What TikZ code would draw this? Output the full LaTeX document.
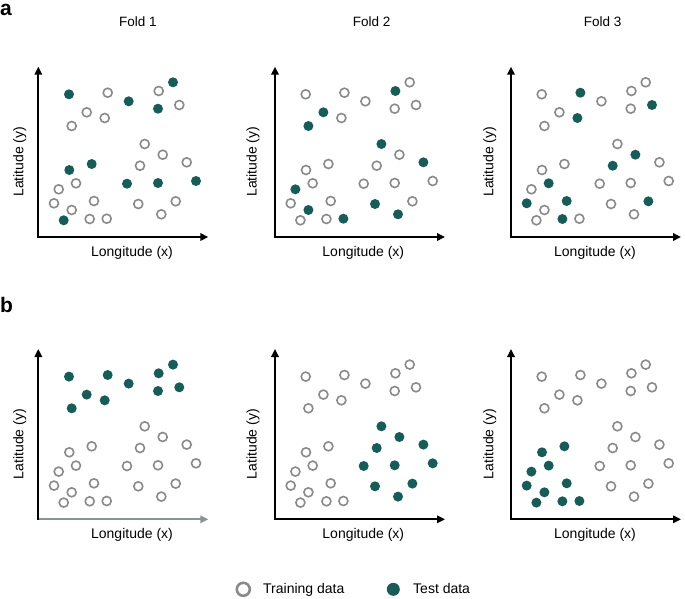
\documentclass[tikz,border=0pt]{standalone}
\usepackage{fontspec}
\setmainfont{Liberation Sans}
\usetikzlibrary{arrows.meta}
\definecolor{cvteal}{RGB}{22,92,88}
\definecolor{ringgray}{RGB}{138,138,138}
\definecolor{axgray}{RGB}{135,148,148}
\tikzset{
  % a coordinate axis
  ax/.style   = {line width=1.8pt, line cap=rect,
                 -{Triangle[length=8pt,width=7.5pt]}},
  % a training point (open ring)
  trn/.style  = {circle, draw=ringgray, line width=1.6pt,
                 minimum size=9pt, inner sep=0pt},
  % a test point (filled dot)
  tst/.style  = {circle, fill=cvteal, minimum size=10pt, inner sep=0pt},
  % axis and legend text
  lbl/.style  = {font=\fontsize{14}{16}\selectfont, inner sep=0pt},
  % the panel letters
  tag/.style  = {font=\bfseries\fontsize{21}{23}\selectfont,
                 inner sep=0pt, anchor=base west},
}
% the 30 sample locations, same in every panel
\newcommand{\ptlist}{1/69/94.3, 2/107.7/92.7, 3/128.7/101.3, 4/158.7/91,
  5/173/82.3, 6/158/108.7, 7/179.3/105, 8/86.7/112.3, 9/104.7/118,
  10/71.7/126, 11/144.7/144, 12/162.7/154.7, 13/186.7/162.3, 14/140/165.7,
  15/69.3/170, 16/91.7/164, 17/76/183.3, 18/58.7/189.3, 19/127/183.7,
  20/158/183, 21/196/181, 22/54/203.3, 23/94/201, 24/71.7/210,
  25/138.3/204, 26/175.7/201.3, 27/63.7/220.3, 28/89.7/219, 29/106.7/218.7,
  30/161.3/214.3}
% #1 prefix, #2 training ids, #3 test ids, #4 x-axis colour,
% #5 x of the longitude label, #6 x of the latitude label
\newcommand{\cvpanel}[6]{%
  \coordinate (#1o) at (38.3,237);
  \coordinate (#1y) at (38.3,66.7);
  \coordinate (#1x) at (208.3,237);
  \draw[ax, #4] (#1o) -- (#1x);
  \draw[ax] (#1o) -- (#1y);
  \node[lbl, anchor=base] (#1lon) at (#5,256) {Longitude (x)};
  \node[lbl, anchor=base, rotate=90] (#1lat) at (#6,161.7) {Latitude (y)};
  \foreach \i/\px/\py in \ptlist {\coordinate (#1p\i) at (\px,\py);}
  \foreach \i in {#2} {\node[trn] (#1n\i) at (#1p\i) {};}
  \foreach \i in {#3} {\node[tst] (#1n\i) at (#1p\i) {};}
}

\begin{document}
\begin{tikzpicture}[x=1pt, y=-1pt]
  \useasboundingbox (0,0) rectangle (685,598);
  \node[tag] (ta) at (0,15) {a};
  \node[tag] (tb) at (0,312) {b};
  \node[lbl, font=\fontsize{13.5}{15}\selectfont, anchor=base] (f1) at (138,26.7) {Fold 1};
  \node[lbl, font=\fontsize{13.5}{15}\selectfont, anchor=base] (f2) at (371.7,26.7) {Fold 2};
  \node[lbl, font=\fontsize{13.5}{15}\selectfont, anchor=base] (f3) at (602.7,26.7) {Fold 3};
  % a: random folds
  \cvpanel{aa}{2,4,7,8,9,10,11,12,13,14,17,18,22,23,24,25,26,28,29,30}
    {1,3,5,6,15,16,19,20,21,27}{black}{132}{23.3}
  \begin{scope}[shift={(236.7,0)}]
    \cvpanel{ab}{1,2,3,5,6,7,9,12,14,15,16,17,19,20,21,22,23,26,27,28}
      {4,8,10,11,13,18,24,25,29,30}{black}{126.6}{20}
  \end{scope}
  \begin{scope}[shift={(472.7,0)}]
    \cvpanel{ac}{1,3,4,5,6,8,10,11,13,15,16,18,19,20,21,24,25,27,29,30}
      {2,7,9,12,14,17,22,23,26,28}{black}{122.3}{20.6}
  \end{scope}
  % b: spatial blocks
  \begin{scope}[shift={(0,282.3)}]
    \cvpanel{ba}{11,12,13,14,15,16,17,18,19,20,21,22,23,24,25,26,27,28,29,30}
      {1,2,3,4,5,6,7,8,9,10}{axgray}{132}{23.3}
  \end{scope}
  \begin{scope}[shift={(236.7,282.3)}]
    \cvpanel{bb}{1,2,3,4,5,6,7,8,9,10,15,16,17,18,22,23,24,27,28,29}
      {11,12,13,14,19,20,21,25,26,30}{black}{126.6}{20}
  \end{scope}
  \begin{scope}[shift={(472.7,282.3)}]
    \cvpanel{bc}{1,2,3,4,5,6,7,8,9,10,11,12,13,14,19,20,21,25,26,30}
      {15,16,17,18,22,23,24,27,28,29}{black}{122.3}{20.6}
  \end{scope}
  % legend
  \node[trn, minimum size=13pt, line width=2.6pt] (lgtr) at (243.3,589.3) {};
  \node[lbl, anchor=base west] (lgtrt) at (263,593) {Training data};
  \node[tst, minimum size=13pt] (lgte) at (393.3,589.3) {};
  \node[lbl, anchor=base west] (lgtet) at (413,593) {Test data};
\end{tikzpicture}
\end{document}
